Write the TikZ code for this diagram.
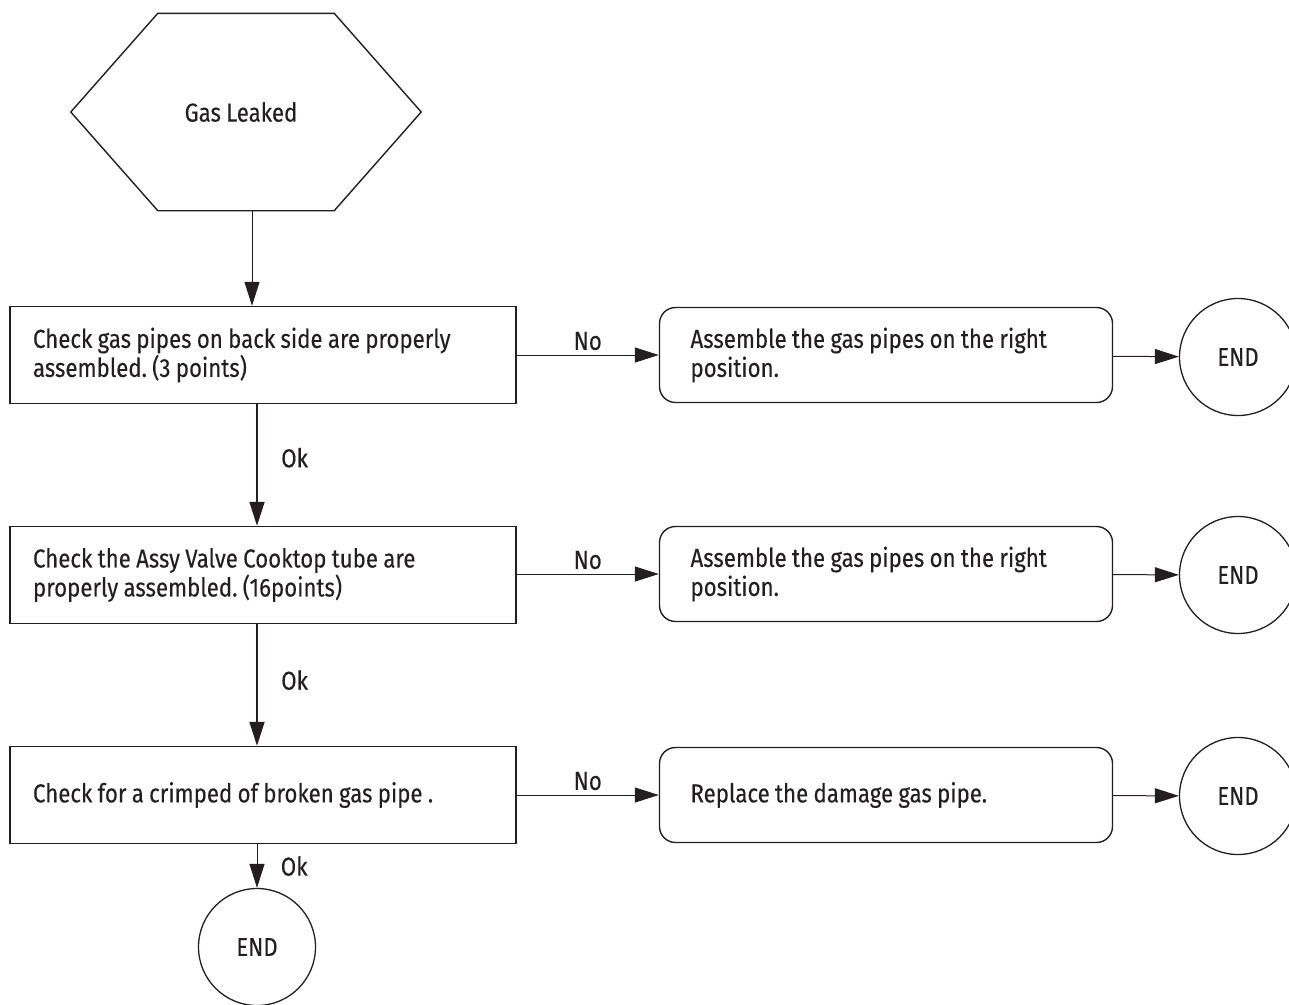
\documentclass[tikz,border=0pt]{standalone}
\usepackage{fontspec}
\setmainfont[FakeStretch=0.855,WordSpace=0.9,FakeBold=0.2]{Fira Sans}
\usepackage{tikz}
\usetikzlibrary{arrows.meta,calc,positioning}
\definecolor{inkgray}{RGB}{35,31,32}
\frenchspacing

\begin{document}
\begin{tikzpicture}[x=1pt,y=-1pt,
  font=\fontsize{26}{29}\selectfont, text=inkgray,
  plainspace/.style={execute at begin node={\spaceskip=0pt\xspaceskip=0pt\relax}},
  chkbox/.style={draw=inkgray,line width=1.4pt,rectangle,minimum width=506pt,
    minimum height=97pt,text width=460pt,inner xsep=23pt,plainspace},
  fixbox/.style={draw=inkgray,line width=1.4pt,rectangle,rounded corners=16pt,
    minimum width=453pt,minimum height=95pt,text width=391pt,inner xsep=31pt,plainspace},
  endnode/.style={draw=inkgray,line width=1.3pt,circle,minimum size=117pt,inner sep=0pt},
  arr/.style={draw=inkgray,line width=1pt,-{Triangle[length=24pt,width=15pt]}},
  okarr/.style={arr,line width=1.8pt}]
  \useasboundingbox (0,0) rectangle (1289,1004);
  % start
  \node[minimum width=350pt,minimum height=197pt] (leak) at (246,112) {};
  \node (leaktxt) at (241,112) {Gas Leaked};
  \draw[inkgray,line width=1.4pt] (leak.west) -- ($(leak.north west)+(87,0)$)
    -- ($(leak.north east)+(-87,0)$) -- (leak.east)
    -- ($(leak.south east)+(-87,0)$) -- ($(leak.south west)+(87,0)$) -- cycle;
  \coordinate (hexfoot) at (252,210);
  % checks
  \node[chkbox] (chk1) at (263,355) {Check gas pipes on back side are properly\\assembled. (3 points)};
  \node[chkbox] (chk2) at (263,575) {Check the Assy Valve Cooktop tube are\\properly assembled. (16points)};
  \node[chkbox] (chk3) at (263,795) {Check for a crimped of broken gas pipe .};
  % fixes
  \node[fixbox] (fix1) at (886,355) {Assemble the gas pipes on the right\\position.};
  \node[fixbox] (fix2) at (886,574) {Assemble the gas pipes on the right\\position.};
  \node[fixbox] (fix3) at (886,795) {Replace the damage gas pipe.};
  % ends
  \node[endnode] (end1) at (1238,357) {END};
  \node[endnode] (end2) at (1238,575) {END};
  \node[endnode] (end3) at (1238,796) {END};
  \node[endnode] (end4) at (257,947) {END};

  \draw[arr] (hexfoot) -- (hexfoot |- chk1.north);
  \draw[okarr] (chk1.south -| end4) -- node[right=20pt,pos=0.44]{Ok} (chk2.north -| end4);
  \draw[okarr] (chk2.south -| end4) -- node[right=20pt,pos=0.46]{Ok} (chk3.north -| end4);
  \draw[arr] (chk3.south -| end4) -- node[right=20pt]{Ok} (end4);
  \draw[arr] (chk1.east |- fix1) -- node[above=1pt]{No} (fix1);
  \draw[arr] (chk2.east |- fix2) -- node[above=1pt]{No} (fix2);
  \draw[arr] (chk3) -- node[above=1pt]{No} (fix3);
  \draw[arr] (fix1) -- (end1);
  \draw[arr] (fix2) -- (end2);
  \draw[arr] (fix3) -- (end3);
\end{tikzpicture}
\end{document}
